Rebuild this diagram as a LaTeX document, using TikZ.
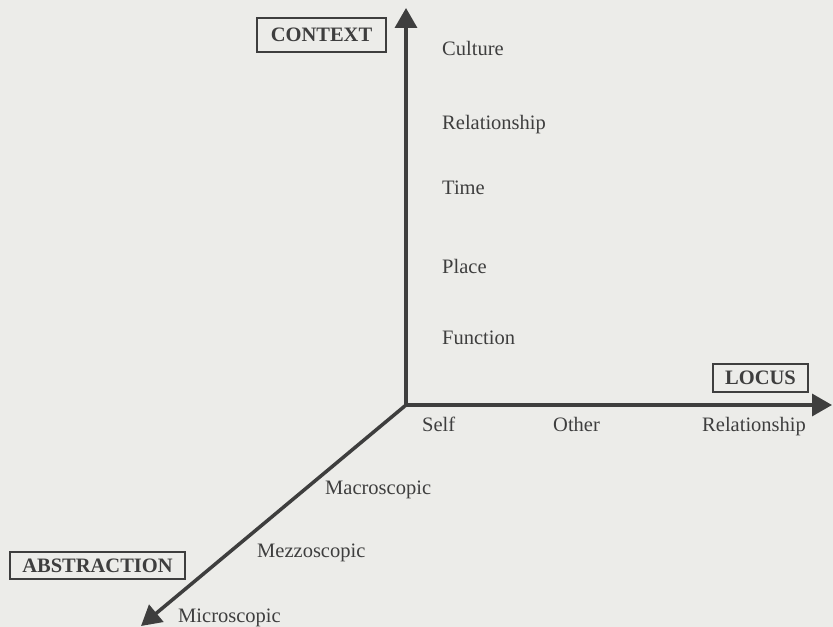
\documentclass[tikz,border=0pt]{standalone}
\usepackage{fontspec}
\setmainfont{Liberation Serif}
\usetikzlibrary{arrows.meta}
\definecolor{bg}{RGB}{236,236,233}
\definecolor{ink}{RGB}{62,62,62}
\begin{document}
\begin{tikzpicture}[x=0.03cm,y=-0.03cm,
  axis/.style={line width=3pt, draw=ink, -{Triangle[length=0.6cm,width=0.66cm]}},
  lbl/.style={anchor=base west, inner sep=0pt, text=ink, font=\fontsize{17.5}{20}\selectfont},
  boxlbl/.style={draw=ink, line width=1.4pt, text=ink, inner sep=0pt, font=\fontsize{17.5}{20}\selectfont\bfseries}]
\fill[bg] (0,0) rectangle (833,627);
\useasboundingbox (0,0) rectangle (833,627);
% axes
\coordinate (O) at (406,405);
\coordinate (T) at (406,8);
\coordinate (R) at (832,405);
\coordinate (D) at (141,626);
\fill[ink] (O) circle (1.5pt);
\draw[axis] (O) -- (T);
\draw[axis] (O) -- (R);
\draw[axis] (O) -- (D);
% boxed axis titles
\node[boxlbl, minimum width=3.87cm, minimum height=1.02cm] (context) at (321.5,35) {CONTEXT};
\node[boxlbl, minimum width=2.85cm, minimum height=0.84cm] (locus) at (760.5,378) {LOCUS};
\node[boxlbl, minimum width=5.25cm, minimum height=0.81cm] (abstraction) at (97.5,565.5) {ABSTRACTION};
% context labels
\node[lbl] (culture) at (442,56) {Culture};
\node[lbl] (relv) at (442,130) {Relationship};
\node[lbl] (time) at (442,195) {Time};
\node[lbl] (place) at (442,274) {Place};
\node[lbl] (function) at (442,345) {Function};
% locus labels
\node[lbl] (self) at (422,432) {Self};
\node[lbl] (other) at (553,432) {Other};
\node[lbl] (relh) at (702,432) {Relationship};
% abstraction labels
\node[lbl] (macro) at (325,495) {Macroscopic};
\node[lbl] (mezzo) at (257,557) {Mezzoscopic};
\node[lbl] (micro) at (178,622) {Microscopic};
\end{tikzpicture}
\end{document}
